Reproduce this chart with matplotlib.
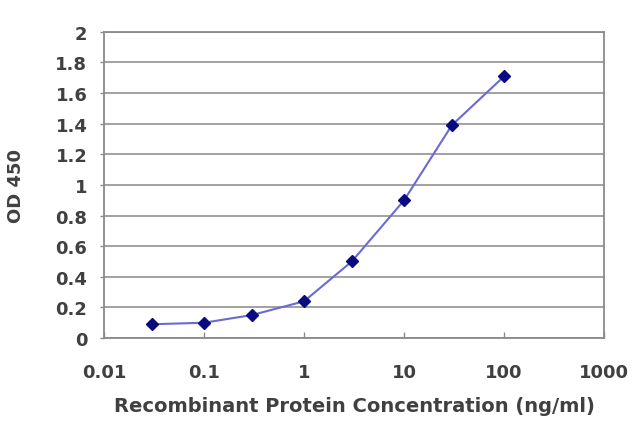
import matplotlib
matplotlib.use("Agg")
import matplotlib.pyplot as plt
from matplotlib.ticker import FixedLocator, FixedFormatter, NullLocator

# values
conc = [0.03, 0.1, 0.3, 1, 3, 10, 30, 100]
od450 = [0.09, 0.10, 0.15, 0.24, 0.50, 0.90, 1.39, 1.71]
xticks = [0.01, 0.1, 1, 10, 100, 1000]
xticklabels = ['0.01', '0.1', '1', '10', '100', '1000']
yticks = [0, 0.2, 0.4, 0.6, 0.8, 1, 1.2, 1.4, 1.6, 1.8, 2]
yticklabels = ['0', '0.2', '0.4', '0.6', '0.8', '1', '1.2', '1.4', '1.6', '1.8', '2']

# the reference text is wide and heavy, so a wide bold face fits it best
plt.rcParams['font.family'] = ['DejaVu Sans']
plt.rcParams['font.weight'] = 'bold'
plt.rcParams['axes.labelweight'] = 'bold'
txt = '#404040'

fig = plt.figure(figsize=(6.4, 4.27), dpi=100)
ax = fig.add_axes([0.1625, 0.206, 0.944 - 0.1625, 0.923 - 0.206])

ax.plot(conc, od450, color='#6a6ad0', linewidth=1.5, zorder=3)
ax.plot(conc, od450, linestyle='none', marker='D', markersize=6.5,
        color='#0a0a80', zorder=4)

ax.set_xscale('log')
ax.set_xlim(0.01, 1000)
ax.set_ylim(0, 2)
ax.xaxis.set_major_locator(FixedLocator(xticks))
ax.xaxis.set_major_formatter(FixedFormatter(xticklabels))
ax.xaxis.set_minor_locator(NullLocator())
ax.set_yticks(yticks)
ax.set_yticklabels(yticklabels)

ax.yaxis.grid(True, color='#9a9a9a', linewidth=1.3)
ax.set_axisbelow(True)
for s in ax.spines.values():
    s.set_color('#8a8a8a')
    s.set_linewidth(1.3)

ax.tick_params(axis='both', colors='#8a8a8a', width=1,
               labelsize=13, labelcolor=txt)
ax.tick_params(axis='y', direction='out', length=3, pad=9)
ax.tick_params(axis='x', direction='in', length=4, pad=18)

ax.set_xlabel('Recombinant Protein Concentration (ng/ml)', fontsize=14,
              color=txt, labelpad=11)
ax.set_ylabel('OD 450', fontsize=13, color=txt, labelpad=22)

fig.savefig('out.png', dpi=100)
